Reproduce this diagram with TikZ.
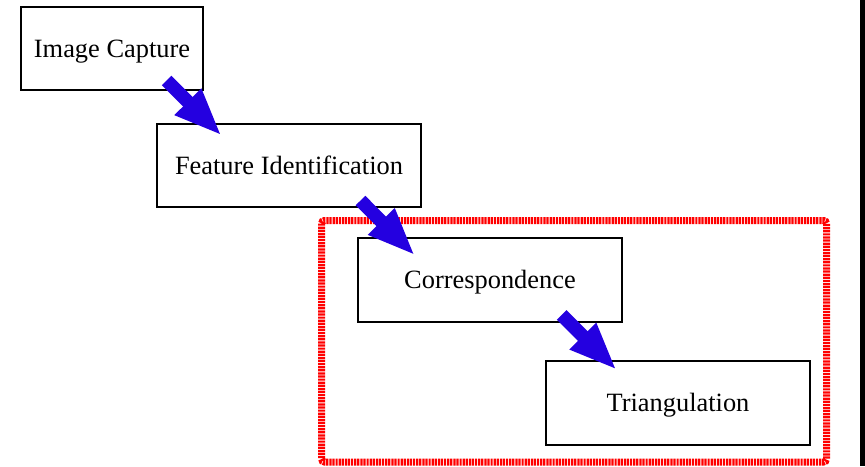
\documentclass[tikz,border=0pt]{standalone}
\usepackage{fontspec}
\setmainfont{Liberation Serif}
\usetikzlibrary{arrows.meta}
\definecolor{flowblue}{RGB}{36,0,224}

\begin{document}
\begin{tikzpicture}[x=0.5pt, y=-0.5pt,
		stage/.style={draw, line width=0.8pt, minimum height=41.75pt, minimum width=132pt, inner sep=0pt, text height=8.5pt, text depth=0pt, font=\fontsize{13.2}{16}\selectfont},
		flow/.style={flowblue, line width=6.75pt, -{Triangle[length=24pt 0, width=17pt 0]}}]
			%%%%% START %%%%%
			\useasboundingbox (0, 0) rectangle (865, 466);
			
			\node[stage, minimum width=91pt] (capture) at (112, 48.5) {Image Capture};
			\node[stage] (feature) at (289, 165.5) {Feature Identification};
			\node[stage] (corresp) at (490, 280) {Correspondence};
			\node[stage] (triang) at (678, 403) {Triangulation};
			
			\draw[red, line width=3.5pt, dash pattern=on 1.1pt off 0.45pt, rounded corners=1.5pt] (321.5, 220.5) rectangle (826.5, 462);
			
			\coordinate (c1) at (166.7, 80.5);
			\coordinate (f1) at (221.7, 135.7);
			\coordinate (f2) at (360.5, 200.5);
			\coordinate (k1) at (415, 255.5);
			\coordinate (k2) at (561.7, 315);
			\coordinate (t1) at (616.7, 370);
			
			\draw[flow] (c1) -- (f1);
			\draw[flow] (f2) -- (k1);
			\draw[flow] (k2) -- (t1);
			
			\fill[black] (860, 0) rectangle (865, 466);
			%%%%% END %%%%%
\end{tikzpicture}
\end{document}
